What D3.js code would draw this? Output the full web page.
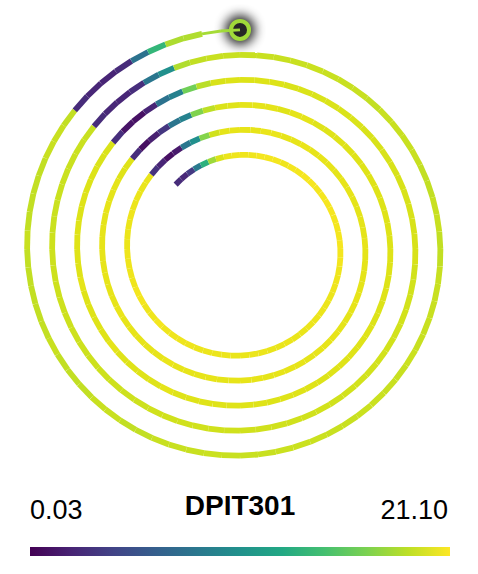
<!DOCTYPE html>
<html>
<head>
<meta charset="utf-8">
<title>DPIT301 spiral</title>
<script src="https://cdn.jsdelivr.net/npm/d3@7"></script>
<style>
body { margin: 0; background: #fff; }
text { font-family: "Liberation Sans", Arial, sans-serif; fill: #000; }
</style>
</head>
<body>
<svg id="chart" width="478" height="574"></svg>
<script>
var sensor = "DPIT301";
var minLabel = "0.03", maxLabel = "21.10";
var valueDomain = [0.03, 21.10];

// one reading per 5 degrees, 72 per turn, starting at the inner end
var turn0 = [
  2.6, 2.4, 3.6, 8.6, 13.5, 18.0, 19.9, 20.5, 20.6, 20.6, 20.6, 20.7,
  20.7, 20.7, 20.6, 20.7, 20.7, 20.8, 20.8, 20.7, 20.7, 20.8, 20.8, 20.7,
  20.7, 20.7, 20.8, 20.7, 20.7, 20.6, 20.6, 20.6, 20.5, 20.5, 20.5, 20.5,
  20.5, 20.4, 20.4, 20.5, 20.4, 20.4, 20.5, 20.5, 20.4, 20.4, 20.5, 20.5,
  20.5, 20.5, 20.6, 20.6, 20.6, 20.6, 20.7, 20.6, 20.6, 20.7, 20.7, 20.6,
  20.6, 20.6, 20.6, 20.5, 20.5, 20.5, 20.6, 20.5, 20.5, 20.4, 20.4, 3.0];
var turn1 = [
  2.2, 0.9, 1.5, 8.4, 10.5, 17.2, 19.6, 20.2, 20.3, 20.3, 20.3, 20.4,
  20.4, 20.3, 20.3, 20.4, 20.3, 20.3, 20.3, 20.2, 20.3, 20.3, 20.2, 20.2,
  20.2, 20.2, 20.3, 20.2, 20.2, 20.2, 20.2, 20.3, 20.3, 20.2, 20.2, 20.3,
  20.3, 20.3, 20.2, 20.3, 20.3, 20.3, 20.2, 20.3, 20.3, 20.3, 20.2, 20.3,
  20.3, 20.3, 20.3, 20.4, 20.3, 20.3, 20.3, 20.3, 20.3, 20.4, 20.3, 20.3,
  20.3, 20.3, 20.3, 20.3, 20.3, 20.2, 20.3, 20.2, 20.2, 20.1, 20.1, 2.7];
var turn2 = [
  0.8, 1.9, 3.4, 8.2, 9.3, 17.0, 19.0, 19.9, 20.1, 20.2, 20.2, 20.2,
  20.1, 20.2, 20.2, 20.1, 20.1, 20.1, 20.1, 20.1, 20.1, 20.1, 20.1, 20.0,
  20.1, 20.1, 20.0, 20.1, 20.1, 20.0, 20.1, 20.0, 20.0, 20.1, 20.1, 20.1,
  20.1, 20.1, 20.0, 20.1, 20.1, 20.1, 20.0, 20.1, 20.1, 20.1, 20.1, 20.1,
  20.1, 20.1, 20.2, 20.1, 20.1, 20.1, 20.1, 20.2, 20.1, 20.1, 20.1, 20.1,
  20.2, 20.1, 20.1, 20.1, 20.1, 20.0, 20.1, 20.0, 20.0, 19.9, 19.9, 2.8];
var turn3 = [
  1.1, 1.0, 2.2, 8.0, 9.2, 16.5, 18.9, 19.8, 20.0, 20.0, 20.0, 20.0,
  19.9, 19.9, 19.9, 19.9, 19.9, 19.9, 19.8, 19.8, 19.8, 19.8, 19.8, 19.8,
  19.8, 19.8, 19.8, 19.8, 19.7, 19.7, 19.7, 19.7, 19.7, 19.7, 19.7, 19.7,
  19.7, 19.7, 19.6, 19.7, 19.6, 19.6, 19.6, 19.6, 19.6, 19.6, 19.6, 19.6,
  19.6, 19.6, 19.6, 19.5, 19.5, 19.5, 19.5, 19.5, 19.5, 19.5, 19.5, 19.5,
  19.5, 19.5, 19.5, 19.5, 19.4, 19.4, 19.4, 19.4, 19.4, 19.4, 19.3, 2.6];
var turn4 = [
  2.4, 2.3, 2.8, 8.3, 10.5, 18.6, 19.2, 19.3, 19.3, 19.3, 19.3, 19.3,
  19.3, 19.4, 19.3, 19.3, 19.3, 19.2, 19.3, 19.3, 19.3, 19.3, 19.2, 19.2,
  19.3, 19.3, 19.2, 19.2, 19.3, 19.3, 19.3, 19.3, 19.3, 19.4, 19.3, 19.3,
  19.4, 19.4, 19.3, 19.3, 19.4, 19.4, 19.4, 19.3, 19.3, 19.3, 19.4, 19.3,
  19.3, 19.3, 19.2, 19.2, 19.3, 19.3, 19.2, 19.2, 19.2, 19.3, 19.2, 19.2,
  19.2, 19.2, 19.2, 19.3, 19.2, 19.2, 19.2, 19.2, 19.3, 19.3, 19.2, 2.6];
var turn5 = [2.3, 2.2, 2.6, 8.0, 14.0, 18.5, 18.6, 18.3, 18.1];

var values = turn0.concat(turn1, turn2, turn3, turn4, turn5);

var svg = d3.select("#chart");
var cx = 240, cy = 249;
var n = values.length;

/* angle in degrees, clockwise from 12 o'clock; radius grows 25px per turn */
var angle = d3.scaleLinear().domain([0, n]).range([-45, -45 + 5 * n]);
var radius = d3.scaleLinear().domain([0, n]).range([91, 91 + 25 * n / 72]);
var color = d3.scaleSequential(d3.interpolateViridis).domain(valueDomain);

function pt(i) {
  var a = angle(i) * Math.PI / 180, r = radius(i);
  return [cx + r * Math.sin(a), cy - r * Math.cos(a)];
}

var defs = svg.append("defs");
defs.append("filter").attr("id", "glow")
  .attr("x", "-100%").attr("y", "-100%").attr("width", "300%").attr("height", "300%")
  .append("feGaussianBlur").attr("stdDeviation", 5.5);

var grad = defs.append("linearGradient").attr("id", "legendGrad");
d3.range(0, 1.01, 0.1).forEach(function(t) {
  grad.append("stop").attr("offset", t)
    .attr("stop-color", color(valueDomain[0] + t * (valueDomain[1] - valueDomain[0])));
});

// end marker with soft shadow
var end = pt(n);
svg.append("circle").attr("cx", end[0]).attr("cy", end[1]).attr("r", 15)
  .attr("fill", "#000").attr("opacity", 0.85).attr("filter", "url(#glow)");
svg.append("circle").attr("cx", end[0]).attr("cy", end[1]).attr("r", 9)
  .attr("fill", "#262626")
  .attr("stroke", color(values[n - 1])).attr("stroke-width", 4);

var line = d3.line();
svg.append("g").selectAll("path")
  .data(values)
  .enter().append("path")
  .attr("d", function(d, i) { return line([pt(i), pt(i + 1)]); })
  .attr("fill", "none")
  .attr("stroke", function(d) { return color(d); })
  .attr("stroke-width", function(d, i) { return i >= n - 2 ? 3 : 5.8; })
  .attr("stroke-linecap", "butt");

// legend
svg.append("text").attr("x", 240).attr("y", 515)
  .attr("text-anchor", "middle").attr("font-size", 28).attr("font-weight", "bold")
  .text(sensor);
svg.append("text").attr("x", 30).attr("y", 519)
  .attr("font-size", 27).text(minLabel);
svg.append("text").attr("x", 448).attr("y", 519)
  .attr("text-anchor", "end").attr("font-size", 27).text(maxLabel);
svg.append("rect").attr("x", 30).attr("y", 547).attr("width", 420).attr("height", 9)
  .attr("fill", "url(#legendGrad)");
</script>
</body>
</html>
